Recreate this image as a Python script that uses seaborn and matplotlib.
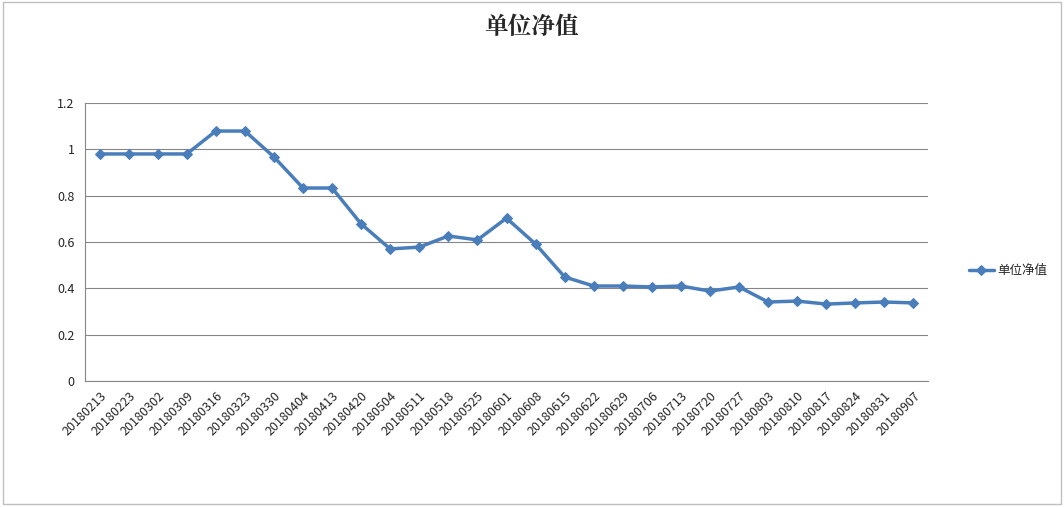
import matplotlib
matplotlib.use("Agg")
import matplotlib.pyplot as plt
import seaborn as sns
import pandas as pd

dates = ["20180213","20180223","20180302","20180309","20180316","20180323","20180330","20180404","20180413","20180420",
         "20180504","20180511","20180518","20180525","20180601","20180608","20180615","20180622","20180629","20180706",
         "20180713","20180720","20180727","20180803","20180810","20180817","20180824","20180831","20180907"]
values = [0.98,0.98,0.98,0.98,1.079,1.079,0.967,0.833,0.833,0.678,
          0.570,0.578,0.626,0.609,0.703,0.591,0.449,0.41,0.41,0.406,
          0.41,0.388,0.406,0.341,0.345,0.332,0.337,0.341,0.337]
series_name = "单位净值"

sns.set_style("white")
plt.rcParams['font.family'] = ['Noto Sans CJK SC', 'DejaVu Sans']

df = pd.DataFrame({"x": range(len(dates)), "y": values})
fig = plt.figure(figsize=(10.64, 5.07), dpi=100)
ax = fig.add_axes([85/1064, 1-381/507, (928-85)/1064, (381-103)/507])
sns.lineplot(data=df, x="x", y="y", ax=ax, color="#4a7ebb", linewidth=2.5,
             marker="D", markersize=5, markeredgecolor="#4a7ebb", label=series_name)
ax.set_xlim(-0.5, len(dates)-0.5)
ax.set_ylim(0, 1.2)
ax.set_yticks([0,0.2,0.4,0.6,0.8,1,1.2])
ax.set_yticklabels(["0","0.2","0.4","0.6","0.8","1","1.2"], fontsize=9)
ax.set_xticks(range(len(dates)))
ax.set_xticklabels(dates, rotation=45, ha="right", rotation_mode="anchor", fontsize=9)
ax.grid(axis="y", color="#868686", linewidth=0.8)
ax.set_xlabel(""); ax.set_ylabel("")
for s in ["top","right"]:
    ax.spines[s].set_visible(False)
ax.spines["left"].set_color("#868686")
ax.spines["bottom"].set_color("#868686")
ax.tick_params(axis="x", length=4, color="#868686", pad=2)
ax.tick_params(axis="y", length=4, color="#868686")
ax.legend(loc="center left", bbox_to_anchor=(1.035, 0.396), frameon=False, fontsize=9,
          handlelength=2, handletextpad=0.3)
fig.text(0.5, 1-27/507, series_name, ha="center", va="center", fontsize=17, fontweight="bold",
         family=['Noto Serif CJK SC', 'Noto Sans CJK SC', 'DejaVu Sans'])
fig.patches.append(plt.Rectangle((0.003,0.006),0.994,0.99, transform=fig.transFigure,
                                 fill=False, edgecolor="#bfbfbf", linewidth=1))
fig.savefig("out.png", dpi=100)
